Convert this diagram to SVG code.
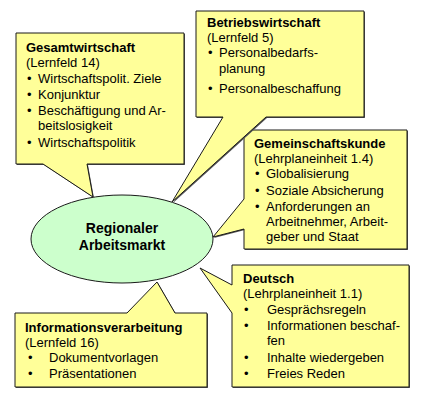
<svg xmlns="http://www.w3.org/2000/svg" width="430" height="402" viewBox="0 0 430 402">
<style>
.box{fill:#FFFF99;stroke:#1a1a1a;stroke-width:1;stroke-linejoin:miter}
.sh{fill:#555;stroke:none}
.ell{fill:#CCFFCC;stroke:#1a1a1a;stroke-width:1}
text{font-family:"Liberation Sans",Arial,sans-serif;font-size:13px;fill:#000}
.h{font-weight:bold}
.c{font-weight:bold;font-size:14px;text-anchor:middle}
</style>
<rect width="430" height="402" fill="#fff"/>
<g id="center">
<ellipse class="ell" cx="122" cy="239" rx="91" ry="44"/>
<text class="c" x="122" y="233">Regionaler</text>
<text class="c" x="122" y="250">Arbeitsmarkt</text>
</g>
<g id="gesamtwirtschaft">
<path class="sh" d="M17,34 H185 V165 H88 L94,198 L44,165 H17 Z"/>
<path class="box" d="M16,33 H184 V164 H87 L93,197 L43,164 H16 Z"/>
<text class="h" x="26" y="52">Gesamtwirtschaft</text>
<text x="26" y="67">(Lernfeld 14)</text>
<text x="27" y="83">•</text><text x="38" y="83">Wirtschaftspolit. Ziele</text>
<text x="27" y="99">•</text><text x="38" y="99">Konjunktur</text>
<text x="27" y="115">•</text><text x="38" y="115">Beschäftigung und Ar-</text>
<text x="38" y="130">beitslosigkeit</text>
<text x="27" y="147">•</text><text x="38" y="147">Wirtschaftspolitik</text>
</g>
<g id="gemeinschaftskunde">
<path class="sh" d="M245,131 H408 V250 H245 V230 L214,238 L245,200 Z"/>
<path class="box" d="M244,130 H407 V249 H244 V229 L213,237 L244,199 Z"/>
<text class="h" x="254" y="148">Gemeinschaftskunde</text>
<text x="254" y="163">(Lehrplaneinheit 1.4)</text>
<text x="255" y="178">•</text><text x="266" y="178">Globalisierung</text>
<text x="255" y="195">•</text><text x="266" y="195">Soziale Absicherung</text>
<text x="255" y="211">•</text><text x="266" y="211">Anforderungen an</text>
<text x="266" y="226">Arbeitnehmer, Arbeit-</text>
<text x="266" y="241">geber und Staat</text>
</g>
<g id="betriebswirtschaft">
<path class="sh" d="M197,12 H365 V118 H267 L173,203 L224,118 H197 Z"/>
<path class="box" d="M196,11 H364 V117 H266 L172,202 L223,117 H196 Z"/>
<text class="h" x="207" y="27">Betriebswirtschaft</text>
<text x="207" y="42">(Lernfeld 5)</text>
<text x="208" y="57">•</text><text x="219" y="57">Personalbedarfs-</text>
<text x="219" y="73">planung</text>
<text x="208" y="93">•</text><text x="219" y="93">Personalbeschaffung</text>
</g>
<g id="deutsch">
<path class="sh" d="M233,266 H410 V388 H233 V314 L201,269 L233,286 Z"/>
<path class="box" d="M232,265 H409 V387 H232 V313 L200,268 L232,285 Z"/>
<text class="h" x="243" y="283">Deutsch</text>
<text x="243" y="298">(Lehrplaneinheit 1.1)</text>
<text x="244" y="314">•</text><text x="267" y="314">Gesprächsregeln</text>
<text x="244" y="330">•</text><text x="267" y="330">Informationen beschaf-</text>
<text x="267" y="345">fen</text>
<text x="244" y="362">•</text><text x="267" y="362">Inhalte wiedergeben</text>
<text x="244" y="378">•</text><text x="267" y="378">Freies Reden</text>
</g>
<g id="informationsverarbeitung">
<path class="sh" d="M16,314 H128 L158,283 L176,314 H208 V388 H16 Z"/>
<path class="box" d="M15,313 H127 L157,282 L175,313 H207 V387 H15 Z"/>
<text class="h" x="25" y="332">Informationsverarbeitung</text>
<text x="25" y="347">(Lernfeld 16)</text>
<text x="28" y="362">•</text><text x="49" y="362">Dokumentvorlagen</text>
<text x="28" y="378">•</text><text x="49" y="378">Präsentationen</text>
</g>
</svg>
